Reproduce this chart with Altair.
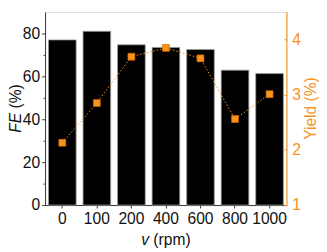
import altair as alt
import pandas as pd

speeds = ["0", "100", "200", "400", "600", "800", "1000"]
fe_values = [77.0, 81.0, 74.7, 73.5, 72.5, 62.9, 61.3]
yield_values = [2.13, 2.85, 3.69, 3.85, 3.66, 2.56, 3.01]
fe_ticks = [0, 10, 20, 30, 40, 50, 60, 70, 80]
yield_ticks = [1, 1.5, 2, 2.5, 3, 3.5, 4]

df = pd.DataFrame({"v": speeds, "FE": fe_values, "Yield": yield_values})
one = pd.DataFrame({"k": [0]})

W, H = 248, 198
FONT = "Liberation Sans"
ORANGE = "#F7931E"
DARK = "#333333"
LFS = 16   # tick label font size
TFS = 16   # axis title font size

x_enc = alt.X(
    "v:N", sort=speeds,
    scale=alt.Scale(paddingInner=0.2, paddingOuter=0.1),
    axis=alt.Axis(title=None, labelAngle=0, labelFontSize=LFS, labelColor="#111",
                  labelFont=FONT, tickSize=3, tickColor=DARK, domainColor=DARK,
                  labelPadding=3),
)

bars = alt.Chart(df).mark_bar(color="black", stroke="#9a9a9a", strokeWidth=0.8).encode(
    x=x_enc,
    y=alt.Y("FE:Q", scale=alt.Scale(domain=[0, 90], nice=False, zero=True),
            axis=alt.Axis(title=None, values=fe_ticks,
                          labelExpr="datum.value % 20 == 0 ? datum.label : ''",
                          tickSize={"condition": {"test": "datum.value % 20 == 0", "value": 3.5}, "value": 2},
                          labelFontSize=LFS, labelColor="#111", labelFont=FONT,
                          tickColor=DARK, domainColor=DARK, labelPadding=2, grid=False)),
)

y2_enc = alt.Y("Yield:Q", scale=alt.Scale(domain=[1, 4.5], nice=False, zero=False),
               axis=alt.Axis(title=None, orient="right", values=yield_ticks,
                             labelExpr="datum.value % 1 == 0 ? format(datum.value, 'd') : ''",
                             tickSize=3, offset=-3, domain=False,
                             labelFontSize=LFS, labelColor=ORANGE, labelFont=FONT,
                             tickColor=ORANGE, labelPadding=5, grid=False))

line = alt.Chart(df).mark_line(color=ORANGE, strokeDash=[1.5, 2], strokeWidth=1).encode(
    x=alt.X("v:N", sort=speeds), y=y2_enc)
points = alt.Chart(df).mark_square(size=50, color=ORANGE, filled=True, opacity=1,
                                   stroke="#D26A00", strokeWidth=0.7).encode(
    x=alt.X("v:N", sort=speeds), y=alt.Y("Yield:Q"))

right_line = alt.Chart(one).mark_rule(color=ORANGE, strokeWidth=1).encode(
    x=alt.value(W), y=alt.value(0), y2=alt.value(H))

def txt(s, x, y, align, italic=False, angle=0, color="#111"):
    kw = dict(text=s, font=FONT, fontSize=TFS, align=align, baseline="middle", color=color)
    if italic:
        kw["fontStyle"] = "italic"
    if angle:
        kw["angle"] = angle
    return alt.Chart(one).mark_text(**kw).encode(x=alt.value(x), y=alt.value(y))

t_fe = txt("FE", -30, H / 2 + 4.5, "right", italic=True, angle=270)
t_fe2 = txt("(%)", -30, H / 2, "left", angle=270)
t_v = txt("v", W / 2 - 25.3, H + 35.5, "left", italic=True)
t_v2 = txt("(rpm)", W / 2 - 12.9, H + 35.5, "left")
t_y = txt("Yield (%)", W + 25, H / 2, "center", angle=270, color=ORANGE)

left_group = alt.layer(bars, t_fe, t_fe2, t_v, t_v2)
right_group = alt.layer(line, points, right_line, t_y)

chart = alt.layer(left_group, right_group).resolve_scale(
    y="independent"
).properties(
    width=W, height=H,
    autosize=alt.AutoSizeParams(type="none"),
    padding={"left": 38, "top": 1, "right": 33, "bottom": 45},
).configure_view(stroke="#777777", strokeWidth=1).configure(font=FONT)

chart.save("out.html", embed_options={"renderer": "svg", "actions": False})
